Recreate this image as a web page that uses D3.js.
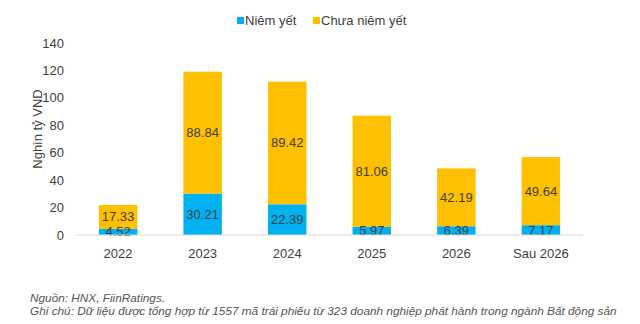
<!DOCTYPE html>
<html><head><meta charset="utf-8">
<script src="https://cdn.jsdelivr.net/npm/d3@7"></script>
<style>body{margin:0;background:#fff}svg{display:block;font-family:"Liberation Sans",Arial,sans-serif}</style>
</head><body><svg id="c" width="640" height="324"></svg>
<script>
const categories = ["2022","2023","2024","2025","2026","Sau 2026"];
const listed = [4.52,30.21,22.39,5.97,6.39,7.17];
const unlisted = [17.33,88.84,89.42,81.06,42.19,49.64];
const seriesNames = ["Niêm yết","Chưa niêm yết"];
const colors = ["#00B0F0","#FFC000"];
const yTicks = [0,20,40,60,80,100,120,140];

const svg = d3.select("#c");
const x = d3.scaleBand().domain(categories).range([76,583]).paddingInner(0.545).paddingOuter(0.27);
const y = d3.scaleLinear().domain([0,140]).range([235,43]);
const txt = "#404040";

svg.append("g").selectAll("text").data(yTicks).join("text")
  .attr("x",64).attr("y",d=>y(d)+4.5).attr("text-anchor","end")
  .attr("font-size",13).attr("fill",txt).text(d=>d);

svg.append("text").attr("transform","translate(42,129) rotate(-90)")
  .attr("text-anchor","middle").attr("font-size",13).attr("fill",txt).text("Nghìn tỷ VND");

const stackData = categories.map((c,i)=>({cat:c, a:listed[i], b:unlisted[i]}));
const stack = d3.stack().keys(["a","b"])(stackData);

const g = svg.append("g");
stack.forEach((layer,li)=>{
  g.selectAll(null).data(layer).join("rect")
    .attr("x",d=>x(d.data.cat)).attr("width",x.bandwidth())
    .attr("y",d=>y(d[1])).attr("height",d=>y(d[0])-y(d[1]))
    .attr("fill",colors[li]);
});

svg.append("line").attr("x1",76).attr("x2",583).attr("y1",y(0)).attr("y2",y(0))
  .attr("stroke","#d9d9d9").attr("stroke-width",1);

stack.forEach((layer,li)=>{
  g.selectAll(null).data(layer).join("text")
    .attr("x",d=>x(d.data.cat)+x.bandwidth()/2)
    .attr("y",d=>(y(d[0])+y(d[1]))/2+4.5)
    .attr("text-anchor","middle").attr("font-size",13).attr("fill",txt)
    .text(d=>(d[1]-d[0]).toFixed(2));
});

svg.append("g").selectAll("text").data(categories).join("text")
  .attr("x",d=>x(d)+x.bandwidth()/2).attr("y",258).attr("text-anchor","middle")
  .attr("font-size",13).attr("fill",txt).text(d=>d);

const leg = [{n:seriesNames[0],c:colors[0],x:237},{n:seriesNames[1],c:colors[1],x:313}];
leg.forEach(l=>{
  svg.append("rect").attr("x",l.x).attr("y",17).attr("width",7).attr("height",7).attr("fill",l.c);
  svg.append("text").attr("x",l.x+8).attr("y",25).attr("font-size",13).attr("fill",txt).text(l.n);
});

svg.append("text").attr("x",30).attr("y",302).attr("font-size",11.8).attr("font-style","italic").attr("fill","#555").text("Nguồn: HNX, FiinRatings.");
svg.append("text").attr("x",30).attr("y",315).attr("font-size",11.8).attr("font-style","italic").attr("fill","#555").text("Ghi chú: Dữ liệu được tổng hợp từ 1557 mã trái phiếu từ 323 doanh nghiệp phát hành trong ngành Bất động sản");
</script></body></html>
